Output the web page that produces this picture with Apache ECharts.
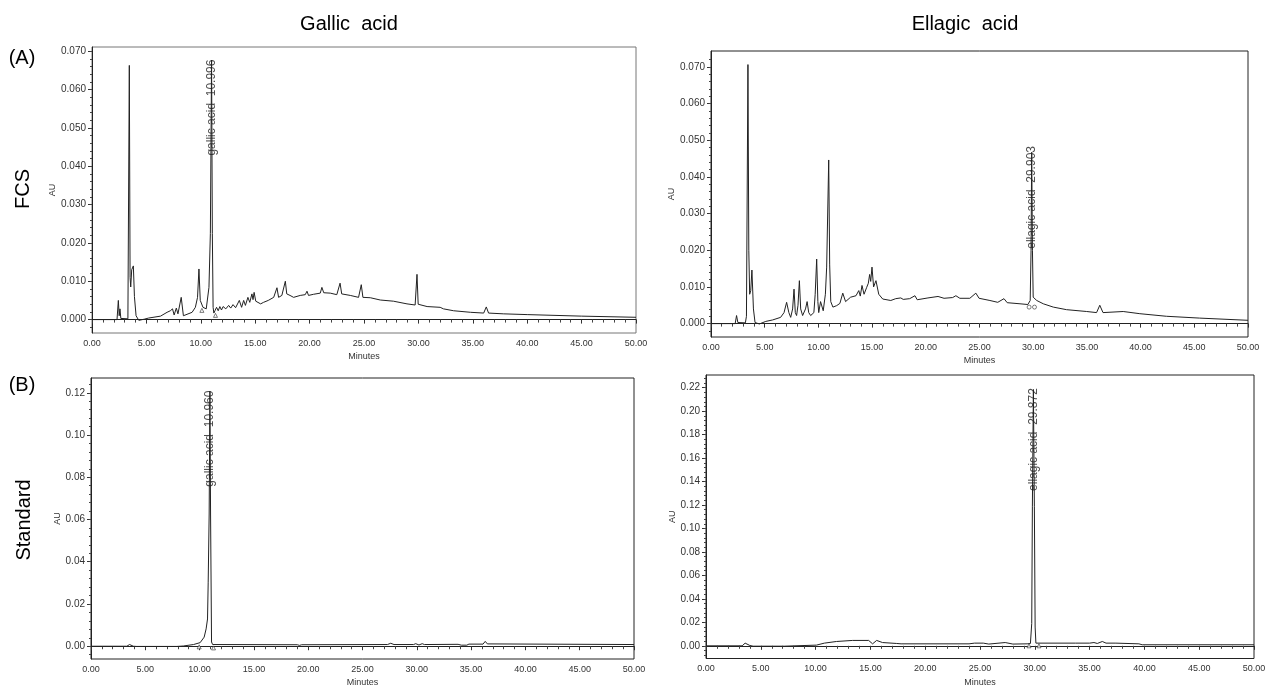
<!DOCTYPE html>
<html lang="en">
<head>
<meta charset="UTF-8">
<title>HPLC chromatograms</title>
<script src="https://cdn.jsdelivr.net/npm/echarts@6/dist/echarts.min.js"></script>
<style>html,body{margin:0;padding:0;background:#fff}</style>
</head>
<body>
<div id="main" style="width:1269px;height:688px"></div>
<script>
// (A) FCS, gallic acid run
var gallicFcsTime = [0, 2.3, 2.42, 2.5, 2.57, 2.65, 3.3, 3.43, 3.5, 3.56, 3.65, 3.8, 3.9, 4.05, 4.3, 4.8, 5.2, 6.3, 6.9, 7.2,
    7.4, 7.55, 7.75, 7.9, 8.2, 8.4, 9.2, 9.5, 9.7, 9.83, 9.95, 10.2, 10.5, 10.75, 10.88, 10.99, 11.06, 11.13, 11.2, 11.3,
    11.45, 11.6, 11.75, 11.9, 12.05, 12.3, 12.56, 12.75, 12.96, 13.2, 13.54, 13.75, 13.94, 14.1, 14.33, 14.5, 14.7, 14.8, 14.9, 15.05,
    15.16, 15.5, 15.77, 16.2, 16.7, 17.0, 17.15, 17.45, 17.77, 17.9, 18.2, 18.53, 19.14, 19.6, 19.76, 19.9, 20.37, 20.98, 21.13, 21.3,
    21.9, 22.5, 22.8, 22.95, 23.74, 24.5, 24.75, 24.9, 25.58, 26.5, 27.7, 28.95, 29.7, 29.87, 29.98, 30.8, 32.0, 32.3, 33.24, 34.8,
    36.0, 36.24, 36.45, 37.8, 40, 45, 50];
var gallicFcsAU = [0, 0, 0.005, 0.001, 0.0028, 0.0003, 0.0002, 0.0663, 0.011, 0.0085, 0.013, 0.014, 0.006, 0.001, -0.0002, 0.0001, 0.0004, 0.0009, 0.0019, 0.0023,
    0.0028, 0.0012, 0.003, 0.0015, 0.0058, 0.001, 0.0019, 0.0032, 0.0058, 0.0132, 0.005, 0.0032, 0.0028, 0.0084, 0.0225, 0.0677, 0.0225, 0.0032, 0.0017, 0.0023,
    0.0032, 0.0023, 0.0034, 0.0025, 0.0034, 0.0028, 0.0037, 0.003, 0.0039, 0.0031, 0.005, 0.0032, 0.005, 0.0037, 0.0058, 0.0045, 0.0067, 0.0052, 0.0071, 0.0048,
    0.0045, 0.0041, 0.0045, 0.005, 0.0058, 0.0083, 0.0058, 0.0063, 0.01, 0.0067, 0.0063, 0.0058, 0.0063, 0.0065, 0.0074, 0.0063, 0.0066, 0.0069, 0.0084, 0.007,
    0.0069, 0.0065, 0.0095, 0.0067, 0.0063, 0.0058, 0.0091, 0.0058, 0.0057, 0.0051, 0.0048, 0.0041, 0.0038, 0.0118, 0.004, 0.0034, 0.0032, 0.0028, 0.0023, 0.0019,
    0.0017, 0.0033, 0.0017, 0.0015, 0.0013, 0.0009, 0.0006];

// (A) FCS, ellagic acid run
var ellagicFcsTime = [0, 2.25, 2.38, 2.5, 3.2, 3.3, 3.44, 3.52, 3.6, 3.7, 3.81, 3.95, 4.1, 4.5, 5.1, 5.74, 6.48, 6.8, 7.04, 7.25,
    7.42, 7.6, 7.73, 7.85, 7.97, 8.1, 8.23, 8.35, 8.53, 8.8, 8.95, 9.1, 9.28, 9.58, 9.7, 9.84, 9.95, 10.03, 10.2, 10.45,
    10.65, 10.77, 10.96, 11.05, 11.15, 11.35, 11.7, 12.0, 12.27, 12.53, 13.0, 13.5, 13.76, 13.9, 14.06, 14.25, 14.5, 14.65, 14.77, 14.87,
    14.99, 15.14, 15.36, 15.62, 15.99, 16.74, 17.2, 17.67, 17.9, 18.5, 18.99, 19.2, 20.2, 21.14, 21.7, 22.5, 22.8, 23.17, 24.1, 24.66,
    24.96, 25.97, 26.7, 27.28, 27.58, 28.77, 29.5, 29.72, 29.8, 29.86, 29.93, 30.0, 30.33, 30.94, 31.87, 33.1, 34.98, 35.9, 36.2, 36.5,
    38.38, 39.93, 42.4, 45.5, 50];
var ellagicFcsAU = [0, 0, 0.0022, 0.0003, 0.0002, 0.002, 0.0706, 0.02, 0.008, 0.009, 0.0146, 0.004, 0.0003, -0.0001, 0.0006, 0.001, 0.0017, 0.003, 0.0058, 0.003,
    0.0017, 0.004, 0.0094, 0.003, 0.0022, 0.005, 0.0117, 0.004, 0.0022, 0.004, 0.006, 0.003, 0.0022, 0.003, 0.008, 0.0176, 0.006, 0.003, 0.006, 0.0035,
    0.008, 0.0154, 0.0446, 0.016, 0.006, 0.0045, 0.0049, 0.0055, 0.0083, 0.006, 0.0072, 0.0076, 0.009, 0.0075, 0.0104, 0.008, 0.0099, 0.011, 0.0134, 0.0115,
    0.0154, 0.01, 0.0117, 0.008, 0.0067, 0.0063, 0.0068, 0.007, 0.0066, 0.0068, 0.0076, 0.0065, 0.007, 0.0074, 0.0069, 0.0071, 0.0076, 0.0069, 0.0069, 0.0083,
    0.0069, 0.0063, 0.0058, 0.0068, 0.0057, 0.0054, 0.0052, 0.0063, 0.02, 0.0467, 0.02, 0.0072, 0.0063, 0.0054, 0.0045, 0.0038, 0.0033, 0.003, 0.005, 0.003,
    0.0033, 0.0027, 0.002, 0.0015, 0.0009];

// (B) standard, gallic acid
var gallicStdTime = [0, 3.3, 3.55, 3.9, 4.2, 7.9, 8.5, 9.44, 10.05, 10.42, 10.6, 10.73, 10.79, 10.88, 10.95, 11.01, 11.1, 11.2, 19.0, 19.2,
    19.4, 27.3, 27.6, 27.9, 29.7, 29.9, 30.2, 30.5, 30.7, 33.8, 34.1, 34.6, 34.8, 36.1, 36.3, 36.5, 50];
var gallicStdAU = [0, 0, 0.0008, 0, -0.0001, -0.0001, 0.0001, 0.0008, 0.0017, 0.0043, 0.0082, 0.0129, 0.03, 0.0626, 0.1208, 0.0626, 0.002, 0.0008, 0.0007, 0.0004,
    0.0007, 0.0008, 0.0014, 0.0008, 0.0008, 0.0012, 0.0006, 0.0012, 0.0008, 0.0009, 0.0005, 0.0005, 0.001, 0.001, 0.0023, 0.0011, 0.0008];

// (B) standard, ellagic acid
var ellagicStdTime = [0, 3.3, 3.57, 4.0, 4.3, 7.15, 7.3, 10.08, 10.8, 11.9, 13.38, 14.84, 15.2, 15.57, 16.1, 17.4, 17.8, 24.0, 24.5, 25.3,
    25.8, 27.3, 28.0, 29.3, 29.6, 29.72, 29.78, 29.87, 29.96, 30.03, 30.1, 33.7, 35.0, 35.4, 35.7, 36.16, 36.5, 37.4, 39.5, 39.8, 50];
var ellagicStdAU = [0, 0, 0.0023, 0.0003, -0.0003, -0.0003, 0.0006, 0.0006, 0.0023, 0.0037, 0.0046, 0.0046, 0.0017, 0.0046, 0.0028, 0.002, 0.0017, 0.0017, 0.0023, 0.0023,
    0.0015, 0.0028, 0.0015, 0.0017, 0.002, 0.019, 0.119, 0.2185, 0.119, 0.016, 0.0023, 0.0023, 0.0023, 0.0028, 0.002, 0.0037, 0.0023, 0.0023, 0.0017, 0.0009, 0.0009];

// axis ticks
var minuteTicks = [0, 5, 10, 15, 20, 25, 30, 35, 40, 45, 50];
var fcsTicks = [0, 0.01, 0.02, 0.03, 0.04, 0.05, 0.06, 0.07];
var gallicStdTicks = [0, 0.02, 0.04, 0.06, 0.08, 0.10, 0.12];
var ellagicStdTicks = [0, 0.02, 0.04, 0.06, 0.08, 0.10, 0.12, 0.14, 0.16, 0.18, 0.20, 0.22];

// peak names and integration marks
var peakNames = ['gallic acid  10.996', 'ellagic acid  29.903', 'gallic acid  10.960', 'ellagic acid  29.872'];
var peakTimes = [10.996, 29.903, 10.960, 29.872];
var markTimes = [[10.1, 11.35], [29.62, 30.12], [9.96, 11.28], [29.47, 30.38]];
var markAU = [[0.0024, 0.0011], [0.0045, 0.0045], [-0.0003, -0.0008], [0, 0]];

function zip(t, v) {
    var out = [];
    for (var i = 0; i < t.length; i++) out.push([t[i], v[i]]);
    return out;
}
function steps(from, to, step) {
    var out = [];
    for (var v = from; v <= to + step / 2; v += step) out.push(Math.round(v * 10000) / 10000);
    return out;
}

var panels = [
    {left: 92, top: 47, width: 544, height: 286, min: -0.0035, max: 0.0711, ticks: fcsTicks, minor: steps(-0.002, 0.07, 0.002),
     dec: 3, data: zip(gallicFcsTime, gallicFcsAU), labelAU: 0.0553, border: '#777', auGap: 34, minGap: 19.5},
    {left: 711, top: 51, width: 537, height: 286, min: -0.00365, max: 0.0743, ticks: fcsTicks, minor: steps(-0.002, 0.072, 0.002),
     dec: 3, data: zip(ellagicFcsTime, ellagicFcsAU), labelAU: 0.0344, border: '#222', auGap: 35, minGap: 19.5},
    {left: 91, top: 378, width: 543, height: 286, min: -0.00605, max: 0.127, ticks: gallicStdTicks, minor: steps(-0.004, 0.124, 0.004),
     dec: 2, data: zip(gallicStdTime, gallicStdAU), labelAU: 0.0983, border: '#222', auGap: 29, minGap: 19},
    {left: 706, top: 375, width: 548, height: 284, min: -0.0108, max: 0.2308, ticks: ellagicStdTicks, minor: steps(-0.008, 0.228, 0.004),
     dec: 2, data: zip(ellagicStdTime, ellagicStdAU), labelAU: 0.1758, border: '#222', auGap: 28, minGap: 19.5}
];

var font = '"Liberation Sans", Arial, sans-serif';
var grid = [], xAxis = [], yAxis = [], series = [];

panels.forEach(function (p, i) {
    grid.push({left: p.left, top: p.top, width: p.width, height: p.height, show: true,
        borderColor: p.border, borderWidth: 1, backgroundColor: '#fff'});
    xAxis.push({
        type: 'value', gridIndex: i, min: 0, max: 50, interval: 5,
        axisLine: {show: true, lineStyle: {color: '#222', width: 1}},
        axisTick: {show: true, length: 4, lineStyle: {color: '#333'}},
        minorTick: {show: true, splitNumber: 5, length: 3, lineStyle: {color: '#444'}},
        splitLine: {show: false},
        axisLabel: {fontSize: 9, color: '#333', fontFamily: font, margin: 6,
            formatter: function (v) { return v.toFixed(2); }},
        name: 'Minutes', nameLocation: 'middle', nameGap: p.minGap,
        nameTextStyle: {fontSize: 9, color: '#333', fontFamily: font}
    });
    yAxis.push({
        type: 'value', gridIndex: i, min: p.min, max: p.max, position: 'left',
        axisLine: {show: true, onZero: false, lineStyle: {color: '#222', width: 1}},
        axisTick: {show: true, length: 4, customValues: p.ticks, lineStyle: {color: '#333'}},
        splitLine: {show: false},
        axisLabel: {fontSize: 10, color: '#333', fontFamily: font, margin: 6, customValues: p.ticks,
            formatter: function (v) { return v.toFixed(p.dec); }},
        name: 'AU', nameLocation: 'middle', nameGap: p.auGap, nameRotate: 90,
        nameTextStyle: {fontSize: 9, color: '#333', fontFamily: font}
    });
    // overlay axis carrying the minor ticks
    yAxis.push({
        type: 'value', gridIndex: i, min: p.min, max: p.max, position: 'left',
        axisLine: {show: false},
        axisTick: {show: true, length: 2, customValues: p.minor, lineStyle: {color: '#444'}},
        axisLabel: {show: false}, splitLine: {show: false}
    });
    series.push({
        type: 'line', xAxisIndex: i, yAxisIndex: i * 2, data: p.data, showSymbol: false,
        lineStyle: {color: '#222', width: 1}, z: 4, animation: false
    });
    series.push({
        type: 'scatter', xAxisIndex: i, yAxisIndex: i * 2, data: [[peakTimes[i], p.labelAU]],
        symbolSize: 1, itemStyle: {color: 'rgba(0,0,0,0)'}, z: 3, animation: false, silent: true,
        label: {show: true, position: 'inside', rotate: 90, formatter: peakNames[i],
            fontSize: 12, color: '#222', fontFamily: font}
    });
    series.push({
        type: 'scatter', xAxisIndex: i, yAxisIndex: i * 2, data: zip(markTimes[i], markAU[i]),
        symbol: i === 1 ? 'circle' : 'triangle', symbolSize: 4,
        itemStyle: {color: '#fff', borderColor: '#333', borderWidth: 0.8}, z: 5, animation: false, silent: true
    });
});

var bigText = {font: '20px ' + font, fill: '#000', align: 'center', verticalAlign: 'middle'};
function txt(s, x, y, rot) {
    return {type: 'text', x: x, y: y, rotation: rot || 0,
        style: Object.assign({}, bigText, {text: s})};
}

var myChart = echarts.init(document.getElementById('main'), null, {renderer: 'canvas'});
myChart.setOption({
    backgroundColor: '#fff',
    animation: false,
    grid: grid,
    xAxis: xAxis,
    yAxis: yAxis,
    series: series,
    graphic: [
        txt('Gallic  acid', 349, 24),
        txt('Ellagic  acid', 965, 24),
        txt('(A)', 22, 58),
        txt('(B)', 22, 385),
        txt('FCS', 23, 189, Math.PI / 2),
        txt('Standard', 24, 520, Math.PI / 2)
    ]
});
</script>
</body>
</html>
